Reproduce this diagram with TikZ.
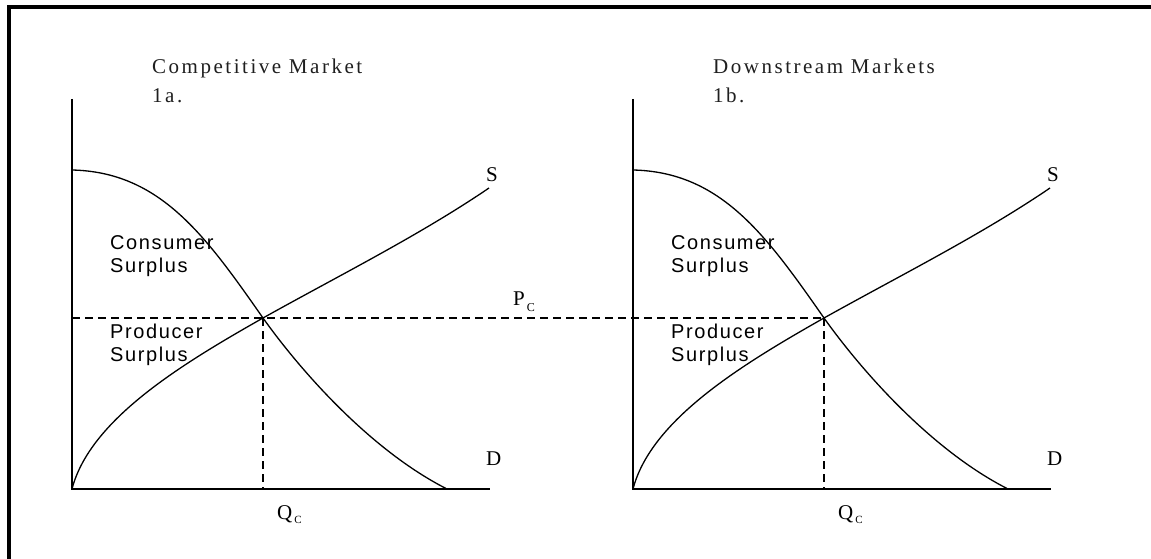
\documentclass[tikz,border=0pt]{standalone}
\usepackage{fontspec}
\setmainfont{Liberation Serif}
\newfontfamily\ssf[LetterSpace=8]{Liberation Sans}
\newfontfamily\tsf[LetterSpace=12]{Liberation Serif}
\begin{document}
\begin{tikzpicture}[x=1pt,y=-1pt,
  frame/.style={line width=3.8pt, line join=miter},
  axis/.style={line width=1.3pt},
  curve/.style={line width=1.3pt},
  guide/.style={line width=1.3pt, dash pattern=on 8pt off 5pt},
  title/.style={anchor=base west, inner sep=0pt, align=left, text=black!88, font=\tsf\fontsize{21}{29}\selectfont},
  area/.style={anchor=base west, inner sep=0pt, align=left, font=\ssf\fontsize{20}{23}\selectfont},
  clabel/.style={anchor=base west, inner sep=0pt, font=\fontsize{21}{24}\selectfont}]
\useasboundingbox (0,0) rectangle (1151,559);
\fill[white] (0,0) rectangle (1151,559);
% frame (cropped)
\coordinate (fTR) at (1151,7);
\coordinate (fTL) at (9,7);
\coordinate (fBL) at (9,559);
\draw[frame] (fTR) -- (fTL) -- (fBL);
% charts
\foreach \dx/\n in {0/L,561/R}{
  \begin{scope}[shift={(\dx,0)}]
    \coordinate (o\n) at (72,489);
    \coordinate (y\n) at (72,99);
    \coordinate (x\n) at (490,489);
    \coordinate (e\n) at (263,318);
    \coordinate (dA\n) at (72,170);
    \coordinate (dB\n) at (447,489);
    \coordinate (sB\n) at (489,188);
    \draw[axis] (y\n) -- (o\n) -- (x\n);
    \draw[curve] (dA\n) .. controls (160,172) and (205,235) .. (e\n)
                        .. controls (300,370) and (370,450) .. (dB\n);
    \draw[curve] (o\n) .. controls (90,420) and (180,365) .. (e\n)
                       .. controls (340,275) and (420,235) .. (sB\n);
    \draw[guide] (e\n) -- (e\n |- o\n);
    \node[clabel] (s\n) at (486,182) {S};
    \node[clabel] (d\n) at (486,465) {D};
    \node[area] (cs\n) at (110,272) {Consumer\\Surplus};
    \node[area] (ps\n) at (110,361) {Producer\\Surplus};
    \node[clabel] (q\n) at (277,519) {Q\hspace{2pt}\raisebox{-4pt}{\fontsize{11}{11}\selectfont C}};
  \end{scope}
}
\draw[guide] (yL |- eL) -- (eR);
\node[clabel] (pc) at (513,305) {P\hspace{2pt}\raisebox{-6pt}{\fontsize{12}{12}\selectfont C}};
\node[title] (t1) at (152,103) {Competitive Market\\1a.};
\node[title] (t2) at (713,103) {Downstream Markets\\1b.};
\end{tikzpicture}
\end{document}
